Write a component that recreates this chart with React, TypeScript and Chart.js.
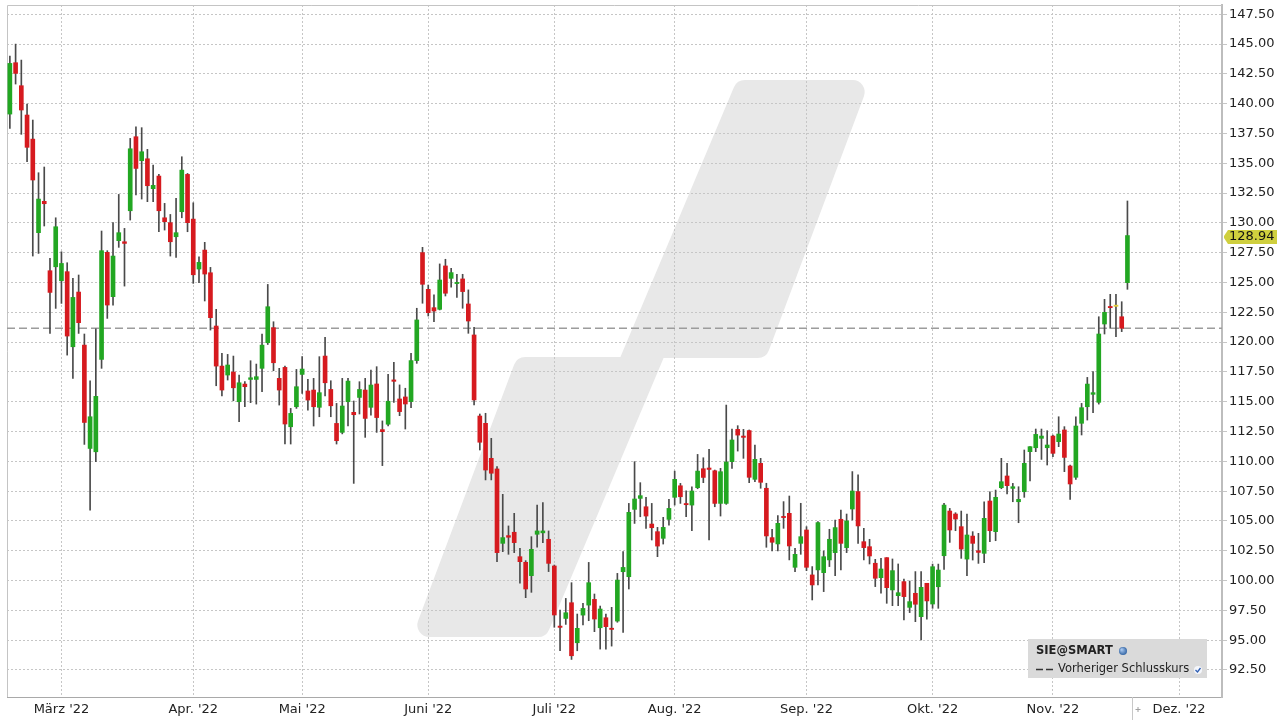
import React, { useEffect, useRef } from "react";
import { Chart, registerables } from "chart.js";

Chart.register(...registerables);

// ---- categories (trading days) ----
const startDate = "2022-02-16";
const holidays = ["2022-04-15", "2022-04-18"];
const slotCount = 212;
const monthLabels: Record<number, string> = {
  2: "März '22", 3: "Apr. '22", 4: "Mai '22", 5: "Juni '22", 6: "Juli '22",
  7: "Aug. '22", 8: "Sep. '22", 9: "Okt. '22", 10: "Nov. '22", 11: "Dez. '22",
};
const yTickValues = [92.5, 95, 97.5, 100, 102.5, 105, 107.5, 110, 112.5, 115, 117.5, 120, 122.5, 125, 127.5, 130, 132.5, 135, 137.5, 140, 142.5, 145, 147.5];
const yMin = 90.23;
const yMax = 148.28;

// ---- series (SIE@SMART daily OHLC) ----
const opens = [
  139.13,143.44,141.51,139.05,137.03,129.18,131.81,125.99,126.32,125.15,
  125.91,119.61,124.2,119.75,111.08,110.8,118.55,127.53,123.81,128.51,
  128.42,131.02,137.23,135.22,135.38,132.87,133.93,130.43,130.02,128.84,
  130.94,134.07,130.32,126.13,127.72,125.82,121.35,117.99,117.24,117.49,
  115.0,116.48,116.87,116.87,117.8,119.95,121.21,116.96,117.88,112.9,
  114.58,117.29,115.9,115.98,114.53,118.83,116.03,113.18,112.43,115.0,
  114.11,115.36,115.98,114.53,116.49,112.66,113.11,116.83,115.23,115.4,
  115.01,118.45,127.51,124.43,122.89,122.75,126.39,125.35,124.91,125.3,
  123.2,120.6,113.8,113.19,110.25,109.36,103.12,103.77,104.05,102.0,
  101.53,100.41,103.88,104.0,103.46,101.22,96.18,96.82,98.14,94.78,
  97.1,97.94,98.42,96.04,96.88,95.99,96.6,100.74,100.32,105.97,
  106.89,106.19,104.74,104.1,103.54,105.13,106.98,107.95,106.44,106.33,
  107.79,109.38,109.44,109.21,106.47,106.47,109.97,112.68,112.12,112.58,
  108.49,109.83,107.74,103.6,103.07,105.36,105.64,101.11,103.12,104.24,
  100.47,100.89,100.66,101.73,102.34,105.14,102.76,106.0,107.46,103.26,
  102.84,101.45,100.24,101.92,99.21,98.73,99.91,97.75,98.93,96.97,
  99.77,98.03,99.48,102.08,105.83,105.58,104.52,101.8,103.73,102.5,
  102.28,106.67,104.1,107.79,108.77,107.73,106.61,107.45,110.81,111.14,
  111.93,111.14,112.12,111.65,112.63,109.61,108.66,113.19,114.58,115.62,
  114.95,121.52,122.97,123.0,122.13,124.99,
];
const highs = [
  144.0,145.0,143.66,139.97,138.63,134.21,134.69,127.02,130.43,127.58,
  126.66,125.35,125.63,120.68,116.76,121.12,129.32,127.67,130.02,132.39,
  129.54,137.09,138.07,137.99,136.17,134.85,134.07,131.64,130.71,132.06,
  135.55,134.15,131.69,127.16,128.37,126.27,122.75,119.06,118.97,118.83,
  117.24,116.68,118.44,118.16,120.68,124.84,121.71,117.8,117.99,114.44,
  117.71,118.78,116.87,116.96,118.78,120.4,116.76,114.86,116.96,116.96,
  115.06,116.68,116.96,117.66,117.94,113.39,117.3,118.31,116.41,116.13,
  119.06,122.84,127.95,124.79,123.96,126.56,126.95,126.19,125.69,125.69,
  124.38,121.24,113.97,114.03,111.93,109.55,107.23,104.58,105.64,102.7,
  101.67,103.68,106.34,106.53,104.16,101.3,97.52,98.5,99.82,97.19,
  98.08,101.52,98.87,97.86,97.19,97.75,100.6,102.42,106.47,109.97,
  108.21,106.98,106.47,104.46,105.3,106.81,109.18,108.15,107.53,107.87,
  110.58,110.3,111.0,109.27,109.41,114.72,112.71,112.99,112.68,112.63,
  111.37,110.25,108.16,104.3,105.44,106.62,107.09,102.7,106.48,104.52,
  101.17,104.94,102.48,104.3,105.08,105.92,105.58,109.14,108.86,104.38,
  103.46,101.78,101.87,101.92,101.81,101.39,100.13,99.96,100.75,100.75,
  99.77,101.38,101.38,106.47,106.05,105.69,105.83,105.58,104.1,103.96,
  106.61,107.45,107.59,110.25,109.83,108.15,107.87,110.95,111.23,112.71,
  112.71,112.57,112.2,113.74,112.91,109.69,113.74,114.86,117.04,117.52,
  122.13,123.59,124.01,124.01,123.39,131.84,
];
const lows = [
  137.93,141.65,137.43,135.13,127.22,127.44,129.74,120.73,122.83,123.25,
  118.91,116.96,120.73,111.42,105.91,109.97,117.8,121.99,123.11,127.95,
  124.7,130.24,132.34,132.0,131.78,131.78,129.26,129.4,127.22,127.11,
  130.43,129.26,124.93,124.98,123.45,121.01,116.34,115.48,116.82,115.08,
  113.32,114.58,114.92,114.8,115.84,119.8,117.6,114.72,111.45,111.45,
  114.44,115.7,114.3,112.96,113.74,115.48,113.74,111.45,112.3,112.96,
  108.15,113.97,112.01,113.88,112.43,109.64,112.97,114.95,113.83,112.71,
  114.5,118.22,123.26,122.19,121.72,122.7,123.87,124.6,123.76,122.84,
  120.74,114.73,110.95,108.44,108.44,101.58,102.42,102.2,102.34,99.77,
  98.56,99.01,102.79,103.18,100.75,96.08,94.11,96.32,93.38,94.11,
  96.27,96.63,95.71,94.25,94.25,94.5,96.5,95.65,99.29,104.79,
  105.35,104.38,103.4,102.0,103.06,104.65,106.33,106.47,105.35,104.18,
  107.7,108.21,103.4,106.19,105.41,106.39,109.41,110.86,110.25,108.21,
  108.3,107.74,102.79,102.48,102.48,104.38,101.73,100.75,102.2,100.83,
  98.37,99.63,99.07,101.17,100.41,100.89,102.34,105.08,103.12,101.73,
  101.39,99.49,98.93,98.09,97.89,97.89,96.69,97.31,96.55,95.01,
  96.75,97.67,97.67,100.94,103.2,104.18,101.86,100.41,101.72,101.44,
  101.5,103.26,103.34,107.7,107.26,106.61,104.85,106.98,108.35,110.81,
  110.16,109.69,110.39,111.23,109.13,106.81,108.49,112.21,113.46,114.08,
  114.8,120.68,121.16,120.46,120.88,124.43,
];
const closes = [
  143.38,142.54,139.47,136.34,133.6,132.0,131.61,124.17,129.68,126.6,
  120.51,123.75,121.63,113.26,113.74,115.45,127.67,123.11,127.22,129.18,
  128.28,136.22,134.57,135.97,133.12,133.15,131.02,130.1,128.42,129.18,
  134.43,130.02,125.65,126.69,125.71,122.05,117.99,115.98,118.08,116.17,
  116.59,116.26,117.01,117.1,119.75,122.97,118.27,115.98,113.13,114.02,
  116.26,117.74,115.14,114.58,115.76,116.59,114.66,111.73,114.64,116.73,
  113.91,116.03,113.6,116.4,113.67,112.49,115.04,116.71,114.17,114.81,
  118.45,121.86,124.85,122.47,122.61,125.21,124.1,125.83,124.99,124.24,
  121.77,115.15,111.6,109.27,109.0,102.34,103.6,103.63,103.18,101.58,
  99.29,102.62,104.16,104.16,101.44,97.11,96.07,97.3,93.69,95.99,
  97.66,99.82,96.77,97.61,96.13,95.9,100.04,101.1,105.72,106.84,
  107.12,105.41,104.43,102.89,104.46,106.05,108.49,107.03,106.36,107.51,
  109.18,108.65,109.32,106.47,109.13,109.94,111.79,112.2,112.01,108.66,
  110.17,108.24,103.74,103.21,104.8,105.28,102.9,102.2,103.68,101.11,
  99.63,104.86,102.0,103.46,104.44,103.12,105.0,107.51,104.58,102.76,
  102.06,100.19,100.97,99.4,100.83,98.98,98.65,98.23,98.01,99.43,
  98.29,101.16,100.88,106.33,104.24,105.16,102.64,103.82,103.12,102.36,
  105.22,104.18,106.98,108.29,107.96,107.87,106.81,109.83,111.23,112.26,
  112.12,111.37,110.67,112.29,110.33,108.1,112.96,114.5,116.48,115.76,
  120.68,122.5,122.89,123.0,121.16,128.94,
];

const UP = "#22a722";
const DOWN = "#d61a1f";
const FLAT = "#e3cf3a";
const FONT = "'DejaVu Sans', Verdana, sans-serif";

function tradingDays(): string[] {
  const out: string[] = [];
  const d = new Date(startDate + "T00:00:00Z");
  while (out.length < slotCount) {
    const iso = d.toISOString().slice(0, 10);
    const wd = d.getUTCDay();
    if (wd !== 0 && wd !== 6 && !holidays.includes(iso)) out.push(iso);
    d.setUTCDate(d.getUTCDate() + 1);
  }
  return out;
}

function roundedPoly(ctx: CanvasRenderingContext2D, pts: number[][], radii: number[]) {
  const n = pts.length;
  ctx.beginPath();
  const a = pts[n - 1], b = pts[0];
  ctx.moveTo((a[0] + b[0]) / 2, (a[1] + b[1]) / 2);
  for (let i = 0; i < n; i++) {
    const p1 = pts[i], p2 = pts[(i + 1) % n];
    if (radii[i] > 0) ctx.arcTo(p1[0], p1[1], p2[0], p2[1], radii[i]);
    else ctx.lineTo(p1[0], p1[1]);
  }
  ctx.closePath();
  ctx.fill();
}

export default function App() {
  const ref = useRef<HTMLCanvasElement>(null);

  useEffect(() => {
    const dates = tradingDays();
    const monthStarts: number[] = [];
    for (let i = 1; i < dates.length; i++) {
      if (dates[i].slice(5, 7) !== dates[i - 1].slice(5, 7)) monthStarts.push(i);
    }
    const labelFor = (idx: number) => {
      const m = parseInt(dates[idx].slice(5, 7), 10) - 1;
      return monthLabels[m] ?? "";
    };

    const bodies = opens.map((o, i) => [Math.min(o, closes[i]), Math.max(o, closes[i])]);
    const wicks = lows.map((l, i) => [l, highs[i]]);
    const bodyColors = opens.map((o, i) => (closes[i] > o ? UP : closes[i] < o ? DOWN : FLAT));
    const lastIdx = closes.length - 1;
    const prevClose = closes[lastIdx - 1];
    const lastClose = closes[lastIdx];

    const decor = {
      id: "decor",
      beforeDraw(chart: any) {
        const { ctx, chartArea: ca } = chart;
        ctx.save();
        ctx.fillStyle = "#ffffff";
        ctx.fillRect(0, 0, chart.width, chart.height);
        const ox = ca.left - 7, oy = ca.top - 5;
        const sh = (p: number[][]) => p.map(([x, y]) => [x + ox, y + oy]);
        ctx.fillStyle = "#e8e8e8";
        roundedPoly(ctx, sh([[517, 357], [664, 357], [546, 637], [412, 637]]), [12, 0, 12, 12]);
        roundedPoly(ctx, sh([[737, 80], [870, 80], [766, 358], [620, 358]]), [12, 12, 12, 0]);
        ctx.restore();
      },
      beforeDatasetsDraw(chart: any) {
        const { ctx, chartArea: ca, scales } = chart;
        ctx.save();
        ctx.strokeStyle = "#c4c4c4";
        ctx.lineWidth = 1;
        ctx.beginPath();
        ctx.moveTo(ca.left + 0.5, ca.bottom);
        ctx.lineTo(ca.left + 0.5, ca.top + 0.5);
        ctx.lineTo(ca.right, ca.top + 0.5);
        ctx.stroke();
        const y = scales.y.getPixelForValue(prevClose);
        ctx.strokeStyle = "#9c9c9c";
        ctx.lineWidth = 1.4;
        ctx.setLineDash([8, 4]);
        ctx.beginPath();
        ctx.moveTo(ca.left, y);
        ctx.lineTo(ca.right, y);
        ctx.stroke();
        ctx.restore();
      },
      afterDraw(chart: any) {
        const { ctx, chartArea: ca, scales } = chart;
        ctx.save();
        // current price label
        const py = Math.round(scales.y.getPixelForValue(lastClose));
        ctx.fillStyle = "#cfcf3e";
        ctx.beginPath();
        ctx.moveTo(ca.right + 2, py);
        ctx.lineTo(ca.right + 6, py - 6);
        ctx.lineTo(ca.right + 55, py - 6);
        ctx.lineTo(ca.right + 55, py + 8);
        ctx.lineTo(ca.right + 6, py + 8);
        ctx.lineTo(ca.right + 2, py + 2);
        ctx.closePath();
        ctx.fill();
        ctx.fillStyle = "#111";
        ctx.font = `13px ${FONT}`;
        ctx.textBaseline = "middle";
        ctx.textAlign = "left";
        ctx.fillText(lastClose.toFixed(2), ca.right + 7, py + 1);

        // legend box
        const bx = ca.right - 194, by = ca.bottom - 58, bw = 179, bh = 39;
        ctx.fillStyle = "#dadada";
        ctx.fillRect(bx, by, bw, bh);
        ctx.fillStyle = "#222";
        ctx.font = `bold 11.5px ${FONT}`;
        ctx.fillText("SIE@SMART", bx + 8, by + 12);
        const gx = bx + 95, gy = by + 12;
        const grad = ctx.createRadialGradient(gx - 1.5, gy - 1.5, 0.5, gx, gy, 4.5);
        grad.addColorStop(0, "#a9c8ef");
        grad.addColorStop(1, "#2a5d9e");
        ctx.fillStyle = grad;
        ctx.beginPath();
        ctx.arc(gx, gy, 4, 0, Math.PI * 2);
        ctx.fill();
        ctx.strokeStyle = "#333";
        ctx.lineWidth = 1.3;
        ctx.setLineDash([7, 3]);
        ctx.beginPath();
        ctx.moveTo(bx + 8, by + 30.5);
        ctx.lineTo(bx + 26, by + 30.5);
        ctx.stroke();
        ctx.setLineDash([]);
        ctx.fillStyle = "#222";
        ctx.font = `11.5px ${FONT}`;
        ctx.fillText("Vorheriger Schlusskurs", bx + 30, by + 30);
        const cx = bx + 170, cy = by + 31;
        ctx.fillStyle = "#f4f6fb";
        ctx.beginPath();
        ctx.arc(cx, cy, 4, 0, Math.PI * 2);
        ctx.fill();
        ctx.strokeStyle = "#2f5fb3";
        ctx.lineWidth = 1.3;
        ctx.beginPath();
        ctx.moveTo(cx - 2.5, cy);
        ctx.lineTo(cx - 0.5, cy + 2);
        ctx.lineTo(cx + 2.5, cy - 2);
        ctx.stroke();

        // "now" marker under the axis
        const x0 = scales.x.getPixelForValue(lastIdx);
        const step = scales.x.getPixelForValue(lastIdx + 1) - x0;
        const mx = Math.round(x0 + step * 0.75) + 0.5;
        ctx.strokeStyle = "#c8c8c8";
        ctx.lineWidth = 1;
        ctx.beginPath();
        ctx.moveTo(mx, ca.bottom);
        ctx.lineTo(mx, chart.height);
        ctx.stroke();
        ctx.strokeStyle = "#a0a0a0";
        ctx.beginPath();
        ctx.moveTo(mx + 3, ca.bottom + 12.5);
        ctx.lineTo(mx + 8, ca.bottom + 12.5);
        ctx.moveTo(mx + 5.5, ca.bottom + 10);
        ctx.lineTo(mx + 5.5, ca.bottom + 15);
        ctx.stroke();
        ctx.restore();
      },
    };

    const chart = new Chart(ref.current as HTMLCanvasElement, {
      type: "bar",
      data: {
        labels: dates,
        datasets: [
          {
            label: "body",
            data: bodies as any,
            backgroundColor: bodyColors,
            borderWidth: 0,
            grouped: false,
            barPercentage: 1,
            categoryPercentage: 1,
            maxBarThickness: 4,
            minBarLength: 1.2,
            order: 0,
          } as any,
          {
            label: "wick",
            data: wicks as any,
            backgroundColor: "#4a4a4a",
            borderWidth: 0,
            grouped: false,
            barPercentage: 1,
            categoryPercentage: 1,
            maxBarThickness: 1,
            order: 1,
          } as any,
        ],
      },
      options: {
        animation: false,
        responsive: false,
        events: [],
        layout: { padding: { left: 7, top: 5, right: 0, bottom: 0 } },
        plugins: { legend: { display: false }, tooltip: { enabled: false } },
        scales: {
          x: {
            type: "category",
            offset: true,
            grid: { offset: false, color: "#c6c6c6", lineWidth: 1, drawTicks: false },
            border: { display: true, color: "#a9a9a9", width: 1, dash: [2, 2] },
            ticks: {
              autoSkip: false,
              maxRotation: 0,
              minRotation: 0,
              padding: 5,
              color: "#222",
              font: { family: FONT, size: 13 },
              callback: (v: any) => labelFor(Number(v)),
            },
            afterBuildTicks: (s: any) => {
              s.ticks = monthStarts.map((v) => ({ value: v }));
            },
            afterFit: (s: any) => {
              s.height = 23;
              s.paddingLeft = 0;
              s.paddingRight = 0;
            },
          } as any,
          y: {
            type: "linear",
            position: "right",
            min: yMin,
            max: yMax,
            grid: { color: "#c6c6c6", lineWidth: 1, drawTicks: true, tickLength: 5 },
            border: { display: true, color: "#bdbdbd", width: 2, dash: [2, 2] },
            ticks: {
              padding: 2,
              color: "#222",
              font: { family: FONT, size: 13 },
              callback: (v: any) => Number(v).toFixed(2),
            },
            afterBuildTicks: (s: any) => {
              s.ticks = yTickValues.map((v) => ({ value: v }));
            },
            afterFit: (s: any) => {
              s.width = 58;
              s.paddingTop = 0;
              s.paddingBottom = 0;
            },
          } as any,
        },
      },
      plugins: [decor as any],
    });
    return () => chart.destroy();
  }, []);

  return (
    <div style={{ position: "absolute", left: 0, top: 0, width: 1280, height: 720, background: "#fff" }}>
      <canvas ref={ref} width={1280} height={720} style={{ display: "block" }} />
    </div>
  );
}
